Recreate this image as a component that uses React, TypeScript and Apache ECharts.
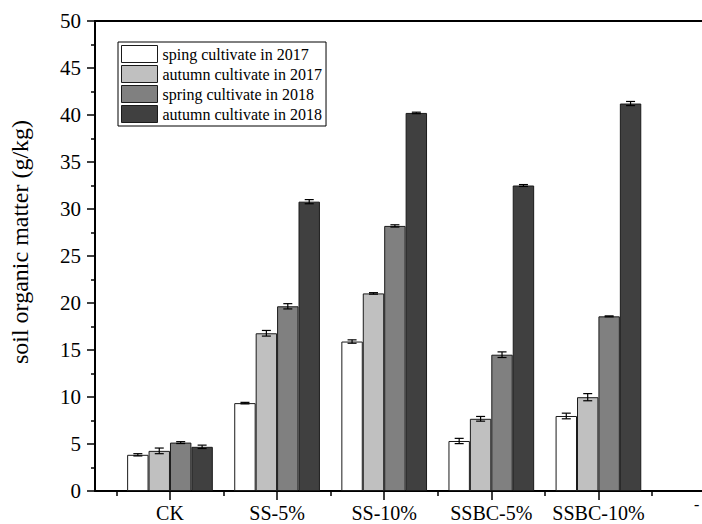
import React, { useEffect, useRef } from "react";
import * as echarts from "echarts";

// Treatments along the x axis (positions 1..5 on a numeric axis)
const categories = ["CK", "SS-5%", "SS-10%", "SSBC-5%", "SSBC-10%"];
const seriesNames = [
  "sping cultivate in 2017",
  "autumn cultivate in 2017",
  "spring cultivate in 2018",
  "autumn cultivate in 2018",
];
const seriesColors = ["#ffffff", "#c0c0c0", "#808080", "#404040"];

// Mean soil organic matter (g/kg) per treatment, one row per season
const values = [
  [3.85, 9.35, 15.9, 5.32, 7.98],
  [4.27, 16.78, 21.02, 7.68, 9.98],
  [5.15, 19.65, 28.2, 14.5, 18.58],
  [4.7, 30.78, 40.22, 32.5, 41.22],
];
// Standard errors
const errors = [
  [0.12, 0.08, 0.18, 0.28, 0.3],
  [0.3, 0.3, 0.08, 0.25, 0.38],
  [0.1, 0.28, 0.12, 0.3, 0.05],
  [0.18, 0.22, 0.08, 0.1, 0.22],
];

const yTicks = { min: 0, max: 50, interval: 5 };
const xMajor = [1, 2, 3, 4, 5, 6];
const xMinor = [0.5, 1.5, 2.5, 3.5, 4.5, 5.5];

const FONT = "Liberation Serif";
const BAR_FRACTION = 0.2;

export default function App() {
  const ref = useRef<HTMLDivElement>(null);

  useEffect(() => {
    document.body.style.margin = "0";
    const chart = echarts.init(ref.current!, null, { renderer: "svg" });

    const barSeries = values.map((vals, i) => ({
      name: seriesNames[i],
      type: "bar",
      xAxisIndex: 0,
      yAxisIndex: 0,
      barWidth: `${BAR_FRACTION * 100}%`,
      barGap: "0%",
      itemStyle: { color: seriesColors[i], borderColor: "#1a1a1a", borderWidth: 1 },
      emphasis: { disabled: true },
      data: vals.map((v, k) => [k + 1, v]),
      z: 2,
    }));

    // Error bars with caps, offset to sit on each bar of the group
    const errorSeries = values.map((vals, i) => ({
      type: "custom",
      xAxisIndex: 0,
      yAxisIndex: 0,
      silent: true,
      z: 5,
      data: vals.map((v, k) => [k + 1, v, errors[i][k]]),
      renderItem: (_params: any, api: any) => {
        const x = api.value(0);
        const m = api.value(1);
        const e = api.value(2);
        const bandPx = api.size([1, 0])[0];
        const c = api.coord([x, m]);
        const cx = c[0] + (i - 1.5) * BAR_FRACTION * bandPx;
        const yTop = api.coord([x, m + e])[1];
        const yBot = api.coord([x, m - e])[1];
        const cap = 4.5;
        const style = { stroke: "#000", lineWidth: 1.2 };
        return {
          type: "group",
          children: [
            { type: "line", shape: { x1: cx, y1: yTop, x2: cx, y2: yBot }, style },
            { type: "line", shape: { x1: cx - cap, y1: yTop, x2: cx + cap, y2: yTop }, style },
            { type: "line", shape: { x1: cx - cap, y1: yBot, x2: cx + cap, y2: yBot }, style },
          ],
        };
      },
    }));

    const xMin = 0.3;
    const xMax = 5.967;

    chart.setOption({
      animation: false,
      grid: { left: 94, top: 21, right: 0, bottom: 33, containLabel: false },
      legend: {
        orient: "vertical",
        left: 118,
        top: 42,
        padding: [3, 4, 3, 3],
        itemWidth: 36,
        itemHeight: 17,
        itemGap: 2,
        icon: "rect",
        borderColor: "#000",
        borderWidth: 1,
        backgroundColor: "#fff",
        itemStyle: { borderColor: "#1a1a1a", borderWidth: 1 },
        textStyle: { fontFamily: FONT, fontSize: 16, color: "#000" },
        data: seriesNames,
      },
      xAxis: [
        {
          type: "value",
          position: "bottom",
          min: xMin,
          max: xMax,
          axisLine: { show: true, onZero: false, lineStyle: { color: "#000", width: 2 } },
          axisTick: {
            show: true,
            inside: false,
            length: 9,
            lineStyle: { color: "#000", width: 1.5 },
            customValues: xMajor,
          },
          axisLabel: {
            show: true,
            margin: 12,
            fontFamily: FONT,
            fontSize: 20,
            color: "#000",
            customValues: [1, 2, 3, 4, 5],
            formatter: (v: number) => categories[Math.round(v) - 1] ?? "",
          },
          splitLine: { show: false },
        },
        {
          type: "value",
          position: "bottom",
          min: xMin,
          max: xMax,
          axisLine: { show: false, onZero: false },
          axisTick: {
            show: true,
            inside: false,
            length: 5,
            lineStyle: { color: "#000", width: 1.5 },
            customValues: xMinor,
          },
          axisLabel: { show: false },
          splitLine: { show: false },
        },
        {
          type: "value",
          position: "top",
          min: xMin,
          max: xMax,
          axisLine: { show: true, onZero: false, lineStyle: { color: "#000", width: 2 } },
          axisTick: { show: false },
          axisLabel: { show: false },
          splitLine: { show: false },
        },
      ],
      yAxis: {
        type: "value",
        min: yTicks.min,
        max: yTicks.max,
        interval: yTicks.interval,
        name: "soil organic matter (g/kg)",
        nameLocation: "middle",
        nameGap: 63,
        nameTextStyle: { fontFamily: FONT, fontSize: 24, color: "#000", padding: [0, 0, 0, 28] },
        axisLine: { show: true, lineStyle: { color: "#000", width: 2 } },
        axisTick: { show: true, inside: false, length: 8, lineStyle: { color: "#000", width: 1.5 } },
        minorTick: { show: true, splitNumber: 2, length: 4, lineStyle: { color: "#000", width: 1.5 } },
        axisLabel: { margin: 14, fontFamily: FONT, fontSize: 21, color: "#000" },
        splitLine: { show: false },
      },
      graphic: [
        {
          type: "text",
          left: 694,
          top: 496,
          style: { text: "-", fontFamily: FONT, fontSize: 16, fill: "#000" },
        },
      ],
      series: [...barSeries, ...errorSeries],
    });

    return () => chart.dispose();
  }, []);

  return <div ref={ref} style={{ width: 702, height: 524 }} />;
}
